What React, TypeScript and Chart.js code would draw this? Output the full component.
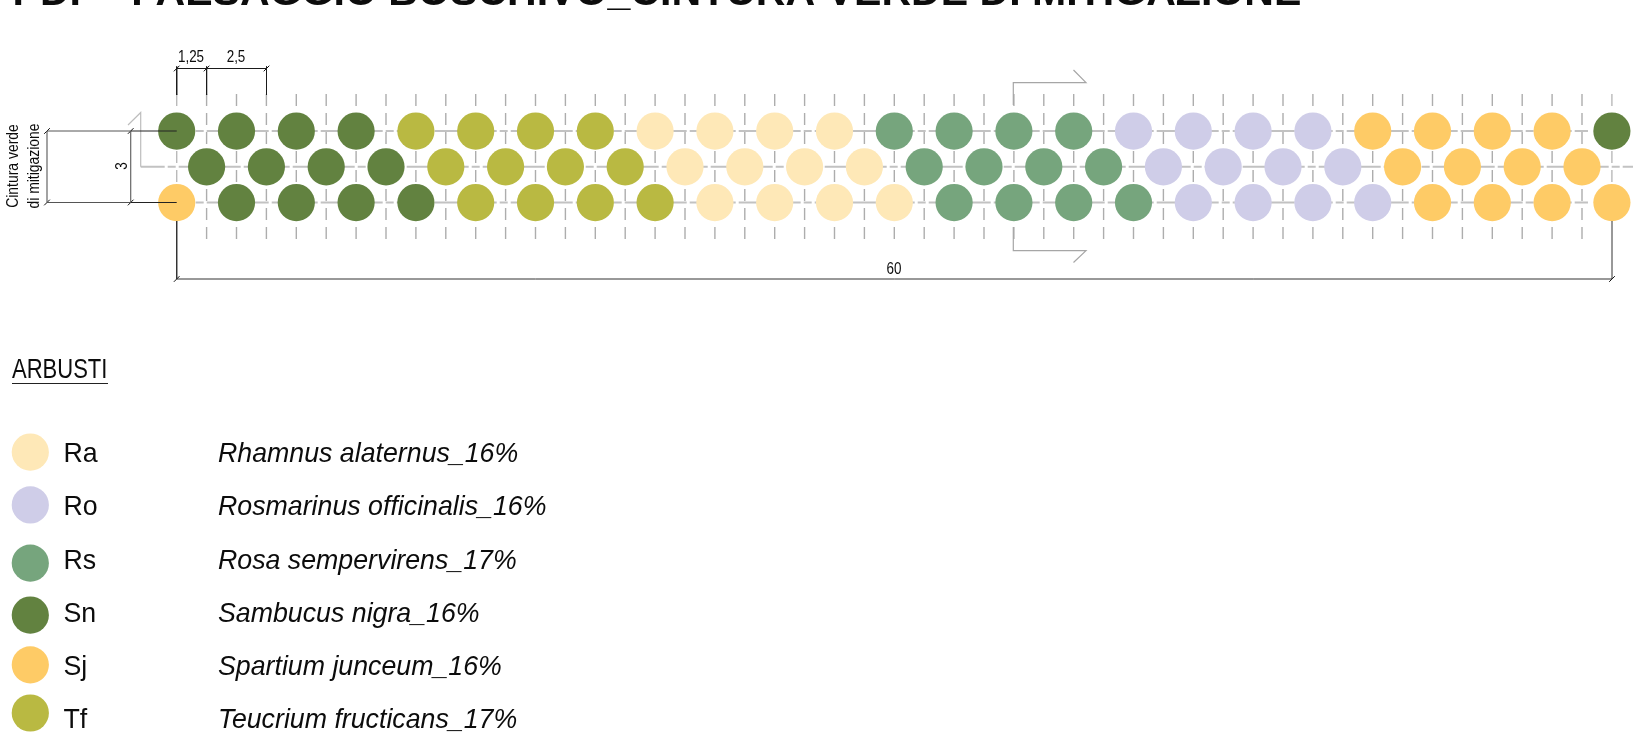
import React, { useEffect, useRef } from "react";
import { Chart, registerables } from "chart.js";

Chart.register(...registerables);

const W = 1636;
const H = 745;
const ORIGIN_X = 176.7;
const ORIGIN_Y = 166.8;
const PX_PER_M_X = 23.92;
const PX_PER_M_Y = 23.83;

const topRowX = [0, 2.5, 5, 7.5, 10, 12.5, 15, 17.5, 20, 22.5, 25, 27.5, 30, 32.5, 35, 37.5, 40, 42.5, 45, 47.5, 50, 52.5, 55, 57.5, 60];
const midRowX = [1.25, 3.75, 6.25, 8.75, 11.25, 13.75, 16.25, 18.75, 21.25, 23.75, 26.25, 28.75, 31.25, 33.75, 36.25, 38.75, 41.25, 43.75, 46.25, 48.75, 51.25, 53.75, 56.25, 58.75];
const bottomRowX = topRowX;

const topRowSpecies = ["Sn", "Sn", "Sn", "Sn", "Tf", "Tf", "Tf", "Tf", "Ra", "Ra", "Ra", "Ra", "Rs", "Rs", "Rs", "Rs", "Ro", "Ro", "Ro", "Ro", "Sj", "Sj", "Sj", "Sj", "Sn"];
const midRowSpecies = ["Sn", "Sn", "Sn", "Sn", "Tf", "Tf", "Tf", "Tf", "Ra", "Ra", "Ra", "Ra", "Rs", "Rs", "Rs", "Rs", "Ro", "Ro", "Ro", "Ro", "Sj", "Sj", "Sj", "Sj"];
const bottomRowSpecies = ["Sj", "Sn", "Sn", "Sn", "Sn", "Tf", "Tf", "Tf", "Tf", "Ra", "Ra", "Ra", "Ra", "Rs", "Rs", "Rs", "Rs", "Ro", "Ro", "Ro", "Ro", "Sj", "Sj", "Sj", "Sj"];

const rowY = [1.5, 0, -1.5];

const speciesCodes = ["Ra", "Ro", "Rs", "Sn", "Sj", "Tf"];
const speciesNames = ["Rhamnus alaternus_16%", "Rosmarinus officinalis_16%", "Rosa sempervirens_17%", "Sambucus nigra_16%", "Spartium junceum_16%", "Teucrium fructicans_17%"];
const speciesColors = ["#fee8b7", "#cfcde8", "#76a57d", "#628240", "#fecb66", "#b9b942"];
const legendY = [-11.97, -14.19, -16.63, -18.81, -20.9, -22.92];
const legendTextY = [452, 505, 559, 612, 665, 718];
const legendX = -6.12;

const gridX = [1.25, 2.5, 3.75, 5, 6.25, 7.5, 8.75, 10, 11.25, 12.5, 13.75, 15, 16.25, 17.5, 18.75, 20, 21.25, 22.5, 23.75, 25, 26.25, 27.5, 28.75, 30, 31.25, 32.5, 33.75, 35, 36.25, 37.5, 38.75, 40, 41.25, 42.5, 43.75, 45, 46.25, 47.5, 48.75, 50, 51.25, 52.5, 53.75, 55, 56.25, 57.5, 58.75];

const TITLE = "PDF - PAESAGGIO BOSCHIVO_CINTURA VERDE DI MITIGAZIONE";

type Pt = { x: number; y: number };
const toM = (px: number, py: number): Pt => ({
  x: (px - ORIGIN_X) / PX_PER_M_X,
  y: (ORIGIN_Y - py) / PX_PER_M_Y,
});

const line = (pts: Pt[], color: string, width: number, order: number, dash: number[] = [], offset = 0) => ({
  type: "scatter" as const,
  data: pts,
  showLine: true,
  borderColor: color,
  borderWidth: width,
  borderDash: dash,
  borderDashOffset: offset,
  pointRadius: 0,
  spanGaps: false,
  order,
});

const withBreaks = (segs: Pt[][]) => {
  const out: Pt[] = [];
  segs.forEach((s) => {
    out.push(...s, { x: NaN, y: NaN });
  });
  return out;
};

const buildDatasets = () => {
  const ds: any[] = [];
  const sets = speciesCodes.map((code, i) => {
    const pts: Pt[] = [];
    topRowSpecies.forEach((s, k) => s === code && pts.push({ x: topRowX[k], y: rowY[0] }));
    midRowSpecies.forEach((s, k) => s === code && pts.push({ x: midRowX[k], y: rowY[1] }));
    bottomRowSpecies.forEach((s, k) => s === code && pts.push({ x: bottomRowX[k], y: rowY[2] }));
    pts.push({ x: legendX, y: legendY[i] });
    return {
      type: "scatter" as const,
      label: code,
      data: pts,
      pointRadius: 18.6,
      pointBorderWidth: 0,
      pointBackgroundColor: speciesColors[i],
      showLine: false,
      order: 1,
    };
  });
  ds.push(...sets);

  // planting grid
  const vTop = 3.055;
  const vBot = -3.03;
  ds.push(line(withBreaks(gridX.map((x) => [{ x, y: vTop }, { x, y: vBot }])), "#adadad", 1.4, 3, [12, 7]));
  ds.push(line(withBreaks([0, 60].map((x) => [{ x, y: vTop }, { x, y: -1.5 }])), "#bababa", 1.4, 3, [12, 7]));
  const hDash = [24, 3, 8, 3];
  ds.push(line(withBreaks([rowY[0], rowY[2]].map((y) => [{ x: 0, y }, { x: 59, y }])), "#c2c2c2", 2, 3, hDash, 8));
  ds.push(line([toM(140.7, ORIGIN_Y), toM(1633, ORIGIN_Y)], "#c2c2c2", 2, 3, hDash));

  // section marks
  ds.push(line([toM(128, 125), toM(140.7, 112.5), toM(140.7, ORIGIN_Y)], "#bdbdbd", 1.2, 2));
  ds.push(line([toM(1013.3, 105), toM(1013.3, 82.7), toM(1086, 82.7), toM(1073.5, 70)], "#a6a6a6", 1.2, 2));
  ds.push(line([toM(1013.3, 227), toM(1013.3, 250.7), toM(1086, 250.7), toM(1073.5, 262.5)], "#a6a6a6", 1.2, 2));

  // dimensions
  const dimY = 68.5;
  const dark = "#1a1a1a";
  ds.push(line([toM(176.7, dimY), toM(266.5, dimY)], dark, 1, 0));
  ds.push(line(withBreaks([176.7, 206.6, 266.5].map((x) => [toM(x, dimY - 2), toM(x, 95)])), dark, 1, 0));
  ds.push(line([toM(47, 131), toM(130.7, 131)], "#555", 1, 0));
  ds.push(line([toM(47, 202.5), toM(130.7, 202.5)], "#555", 1, 0));
  ds.push(line([toM(130.7, 131), toM(176.7, 131)], "#222", 1.2, 0));
  ds.push(line([toM(130.7, 202.5), toM(176.7, 202.5)], "#222", 1.2, 0));
  ds.push(line([toM(47, 131), toM(47, 202.5)], "#666", 1.2, 0));
  ds.push(line([toM(130.7, 131), toM(130.7, 202.5)], "#666", 1.2, 0));
  ds.push(line([toM(176.7, 221), toM(176.7, 279), toM(1612, 279), toM(1612, 221)], "#333", 1, 0));
  ds.push({
    type: "scatter" as const,
    data: [
      toM(176.7, dimY), toM(206.6, dimY), toM(266.5, dimY),
      toM(47, 131), toM(47, 202.5), toM(130.7, 131), toM(130.7, 202.5),
      toM(176.7, 279), toM(1612, 279),
    ],
    showLine: false,
    pointStyle: "line",
    pointRadius: 4,
    pointRotation: -45,
    pointBorderColor: "#111",
    pointBorderWidth: 1,
    order: 0,
  });
  return ds;
};

type Label = { t: string; x: number; y: number; font: string; sx?: number; rot?: number; align?: CanvasTextAlign };

const labels: Label[] = [
  { t: TITLE, x: 12.5, y: 5, font: "bold 41px 'Liberation Sans'", sx: 1.002, align: "left" },
  { t: "1,25", x: 191, y: 62, font: "17px 'Liberation Sans'", sx: 0.79, align: "center" },
  { t: "2,5", x: 236, y: 62, font: "17px 'Liberation Sans'", sx: 0.79, align: "center" },
  { t: "60", x: 894, y: 274, font: "17px 'Liberation Sans'", sx: 0.79, align: "center" },
  { t: "3", x: 127, y: 166, font: "17px 'Liberation Sans'", sx: 0.79, rot: -90, align: "center" },
  { t: "Cintura verde", x: 18, y: 166, font: "16px 'Liberation Sans'", sx: 0.87, rot: -90, align: "center" },
  { t: "di mitigazione", x: 39, y: 166, font: "16px 'Liberation Sans'", sx: 0.87, rot: -90, align: "center" },
  { t: "ARBUSTI", x: 12, y: 378, font: "27px 'Liberation Sans'", sx: 0.815, align: "left" },
];
speciesCodes.forEach((c, i) => {
  labels.push({ t: c, x: 63.5, y: legendTextY[i] + 9.5, font: "28px 'Liberation Sans'", sx: 0.955, align: "left" });
  labels.push({ t: speciesNames[i], x: 218, y: legendTextY[i] + 9.5, font: "italic 28px 'Liberation Sans'", sx: 0.955, align: "left" });
});

const textPlugin = {
  id: "cadText",
  afterDatasetsDraw(chart: any) {
    const ctx = chart.ctx as CanvasRenderingContext2D;
    labels.forEach((l) => {
      ctx.save();
      ctx.translate(l.x, l.y);
      if (l.rot) ctx.rotate((l.rot * Math.PI) / 180);
      ctx.scale(l.sx ?? 1, 1);
      ctx.font = l.font;
      ctx.fillStyle = "#0c0c0c";
      ctx.textAlign = l.align ?? "left";
      ctx.textBaseline = "alphabetic";
      ctx.fillText(l.t, 0, 0);
      ctx.restore();
    });
    ctx.save();
    ctx.strokeStyle = "#222";
    ctx.lineWidth = 1;
    ctx.beginPath();
    ctx.moveTo(12, 383.5);
    ctx.lineTo(108, 383.5);
    ctx.stroke();
    ctx.restore();
  },
};

export default function App() {
  const ref = useRef<HTMLCanvasElement>(null);
  useEffect(() => {
    if (!ref.current) return;
    const chart = new Chart(ref.current, {
      type: "scatter",
      data: { datasets: buildDatasets() },
      options: {
        animation: false,
        responsive: false,
        layout: { padding: 0, autoPadding: false },
        plugins: { legend: { display: false }, tooltip: { enabled: false }, title: { display: false } },
        scales: {
          x: { type: "linear", display: false, min: -ORIGIN_X / PX_PER_M_X, max: (W - ORIGIN_X) / PX_PER_M_X },
          y: { type: "linear", display: false, min: (ORIGIN_Y - H) / PX_PER_M_Y, max: ORIGIN_Y / PX_PER_M_Y },
        },
      },
      plugins: [textPlugin],
    } as any);
    return () => chart.destroy();
  }, []);
  return (
    <canvas
      ref={ref}
      width={W}
      height={H}
      style={{ position: "absolute", left: 0, top: 0, width: W, height: H, display: "block", background: "#fff" }}
    />
  );
}
